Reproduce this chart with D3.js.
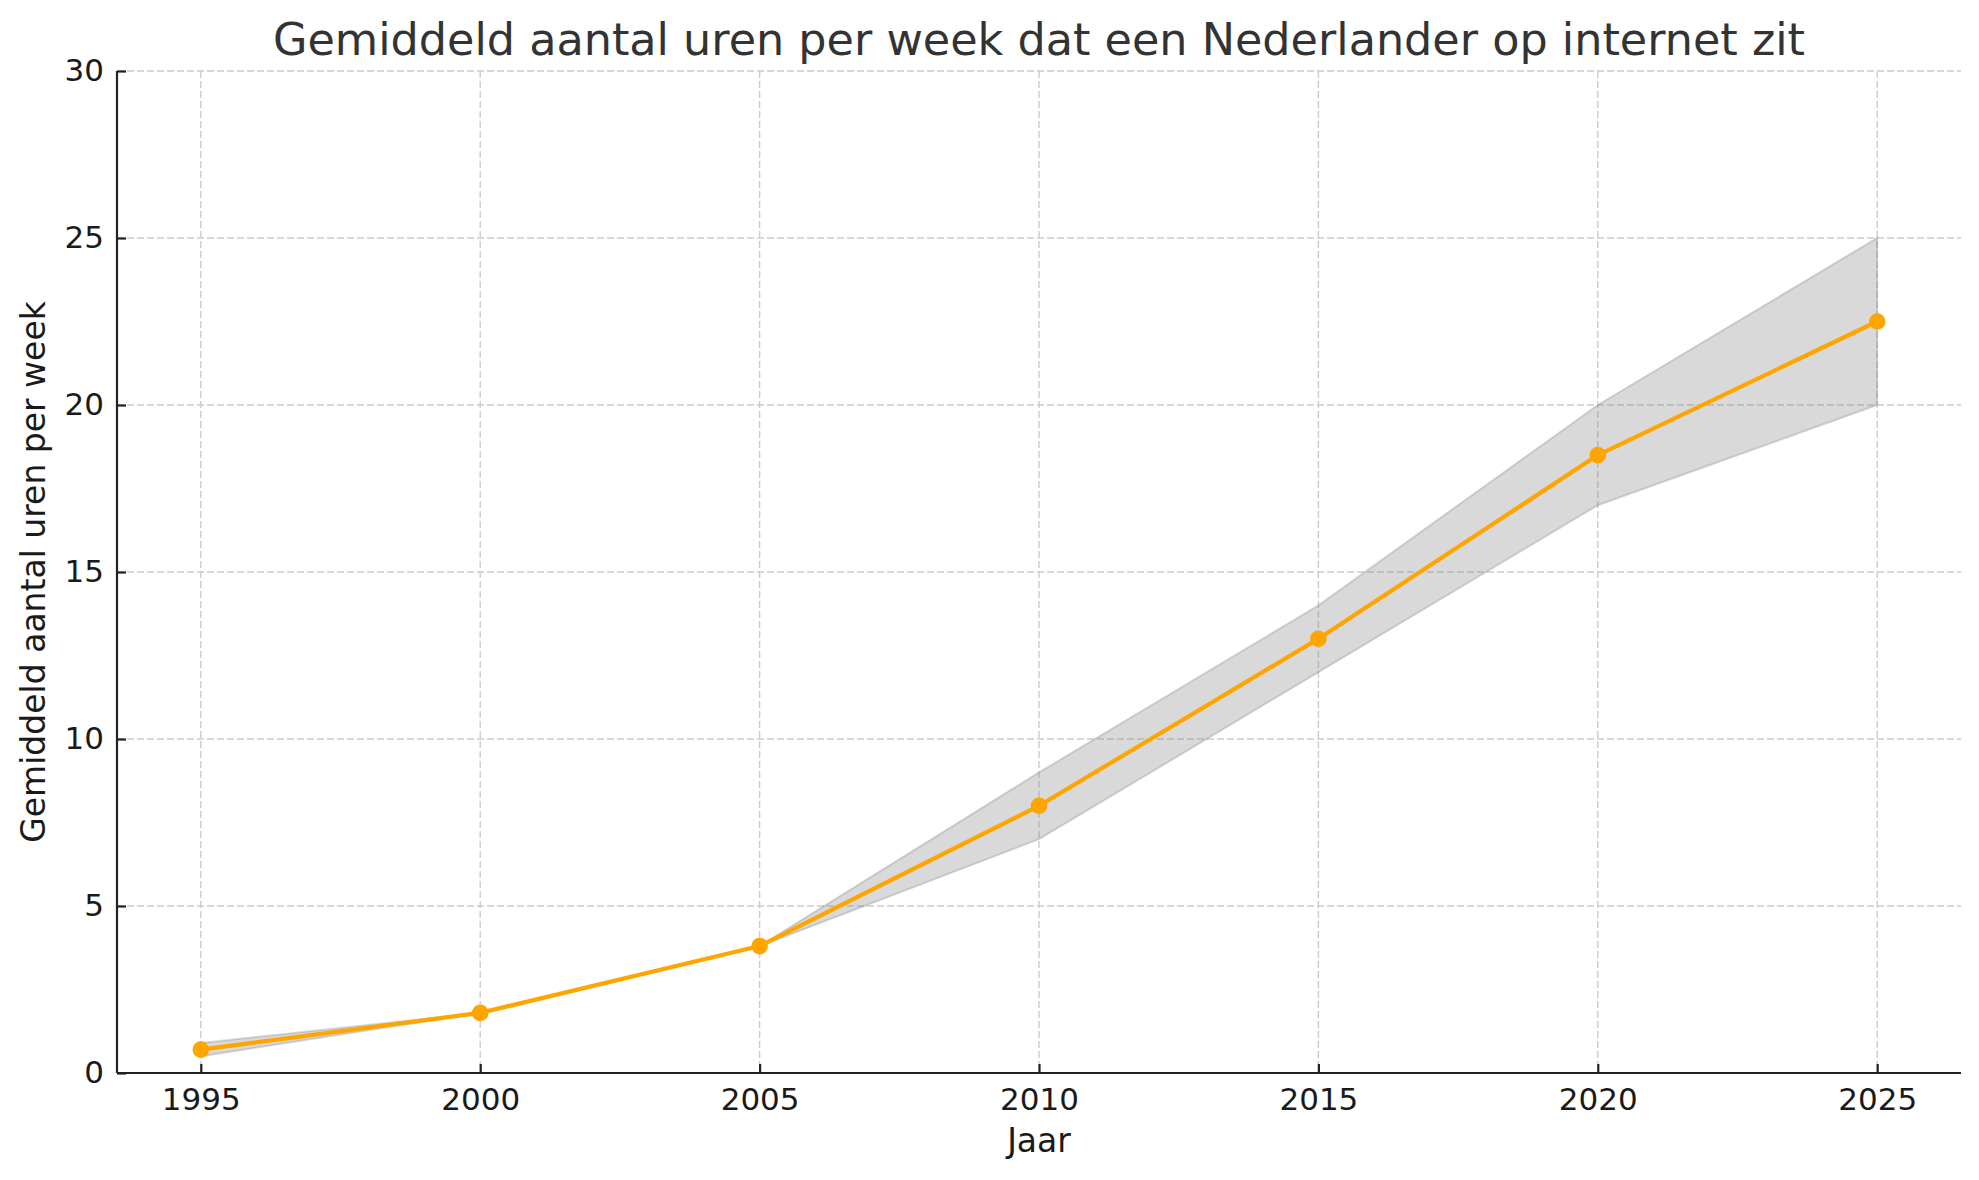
<!DOCTYPE html>
<html>
<head>
<meta charset="utf-8">
<script src="https://cdn.jsdelivr.net/npm/d3@7"></script>
<style>
  html, body { margin: 0; padding: 0; background: #fff; }
  svg { display: block; font-family: "DejaVu Sans", sans-serif; }
</style>
</head>
<body>
<svg id="chart" width="1979" height="1180"></svg>
<script>
const years = [1995, 2000, 2005, 2010, 2015, 2020, 2025];
const hours = [0.7, 1.8, 3.8, 8, 13, 18.5, 22.5];
const lower = [0.5, 1.8, 3.8, 7, 12, 17, 20];
const upper = [0.9, 1.8, 3.8, 9, 14, 20, 25];
const xTicks = [1995, 2000, 2005, 2010, 2015, 2020, 2025];
const yTicks = [0, 5, 10, 15, 20, 25, 30];
const titleText = "Gemiddeld aantal uren per week dat een Nederlander op internet zit";
const xLabel = "Jaar";
const yLabel = "Gemiddeld aantal uren per week";

(function () {
const svg = d3.select("#chart");
const pLeft = 117, pRight = 1961, pTop = 71, pBottom = 1073;

const x = d3.scaleLinear().domain([1993.5, 2026.5]).range([pLeft, pRight]);
const y = d3.scaleLinear().domain([0, 30]).range([pBottom, pTop]);

// grid
const grid = svg.append("g");
grid.selectAll(".gx").data(xTicks).enter().append("line")
  .attr("x1", d => x(d)).attr("x2", d => x(d))
  .attr("y1", pTop).attr("y2", pBottom)
  .attr("stroke", "#cccccc").attr("stroke-width", 1.4).attr("stroke-dasharray", "7,3");
grid.selectAll(".gy").data(yTicks).enter().append("line")
  .attr("x1", pLeft).attr("x2", pRight)
  .attr("y1", d => y(d)).attr("y2", d => y(d))
  .attr("stroke", "#cccccc").attr("stroke-width", 1.4).attr("stroke-dasharray", "7,3");

// band
const bandData = years.map((yr, i) => ({ yr, lo: lower[i], hi: upper[i] }));
const area = d3.area().x(d => x(d.yr)).y0(d => y(d.lo)).y1(d => y(d.hi));
svg.append("path").datum(bandData).attr("d", area)
  .attr("fill", "gray").attr("fill-opacity", 0.3)
  .attr("stroke", "gray").attr("stroke-opacity", 0.3).attr("stroke-width", 2);

// line
const lineData = years.map((yr, i) => ({ yr, v: hours[i] }));
const line = d3.line().x(d => x(d.yr)).y(d => y(d.v));
svg.append("path").datum(lineData).attr("d", line)
  .attr("fill", "none").attr("stroke", "#FFA500").attr("stroke-width", 4.2)
  .attr("stroke-linejoin", "round");
svg.selectAll(".pt").data(lineData).enter().append("circle")
  .attr("cx", d => x(d.yr)).attr("cy", d => y(d.v)).attr("r", 8.3)
  .attr("fill", "#FFA500");

// axes
const xAxis = d3.axisBottom(x).tickValues(xTicks).tickFormat(d3.format("d"))
  .tickSizeInner(-9).tickSizeOuter(0).tickPadding(15);
const yAxis = d3.axisLeft(y).tickValues(yTicks).tickFormat(d3.format("d"))
  .tickSizeInner(-9).tickSizeOuter(0).tickPadding(13);

const gx = svg.append("g").attr("transform", `translate(0,${pBottom})`).call(xAxis);
const gy = svg.append("g").attr("transform", `translate(${pLeft},0)`).call(yAxis);
[gx, gy].forEach(g => {
  g.select(".domain").attr("stroke", "#222").attr("stroke-width", 2.2);
  g.selectAll(".tick line").attr("stroke", "#222").attr("stroke-width", 2.2);
  g.selectAll(".tick text").attr("fill", "#1a1a1a").attr("font-size", 31)
    .attr("font-family", "DejaVu Sans, sans-serif");
});
gx.select(".domain").attr("d", `M${pLeft},0H${pRight}`);
gy.select(".domain").attr("d", `M0,${pBottom}V${pTop}`);

// labels
svg.append("text").attr("x", (pLeft + pRight) / 2).attr("y", 55)
  .attr("text-anchor", "middle").attr("font-size", 44.5).attr("fill", "#333")
  .text(titleText);
svg.append("text").attr("x", (pLeft + pRight) / 2).attr("y", 1152)
  .attr("text-anchor", "middle").attr("font-size", 33).attr("fill", "#1a1a1a")
  .text(xLabel);
svg.append("text")
  .attr("transform", `translate(45,${(pTop + pBottom) / 2}) rotate(-90)`)
  .attr("text-anchor", "middle").attr("font-size", 33).attr("fill", "#1a1a1a")
  .text(yLabel);
})();
</script>
</body>
</html>
